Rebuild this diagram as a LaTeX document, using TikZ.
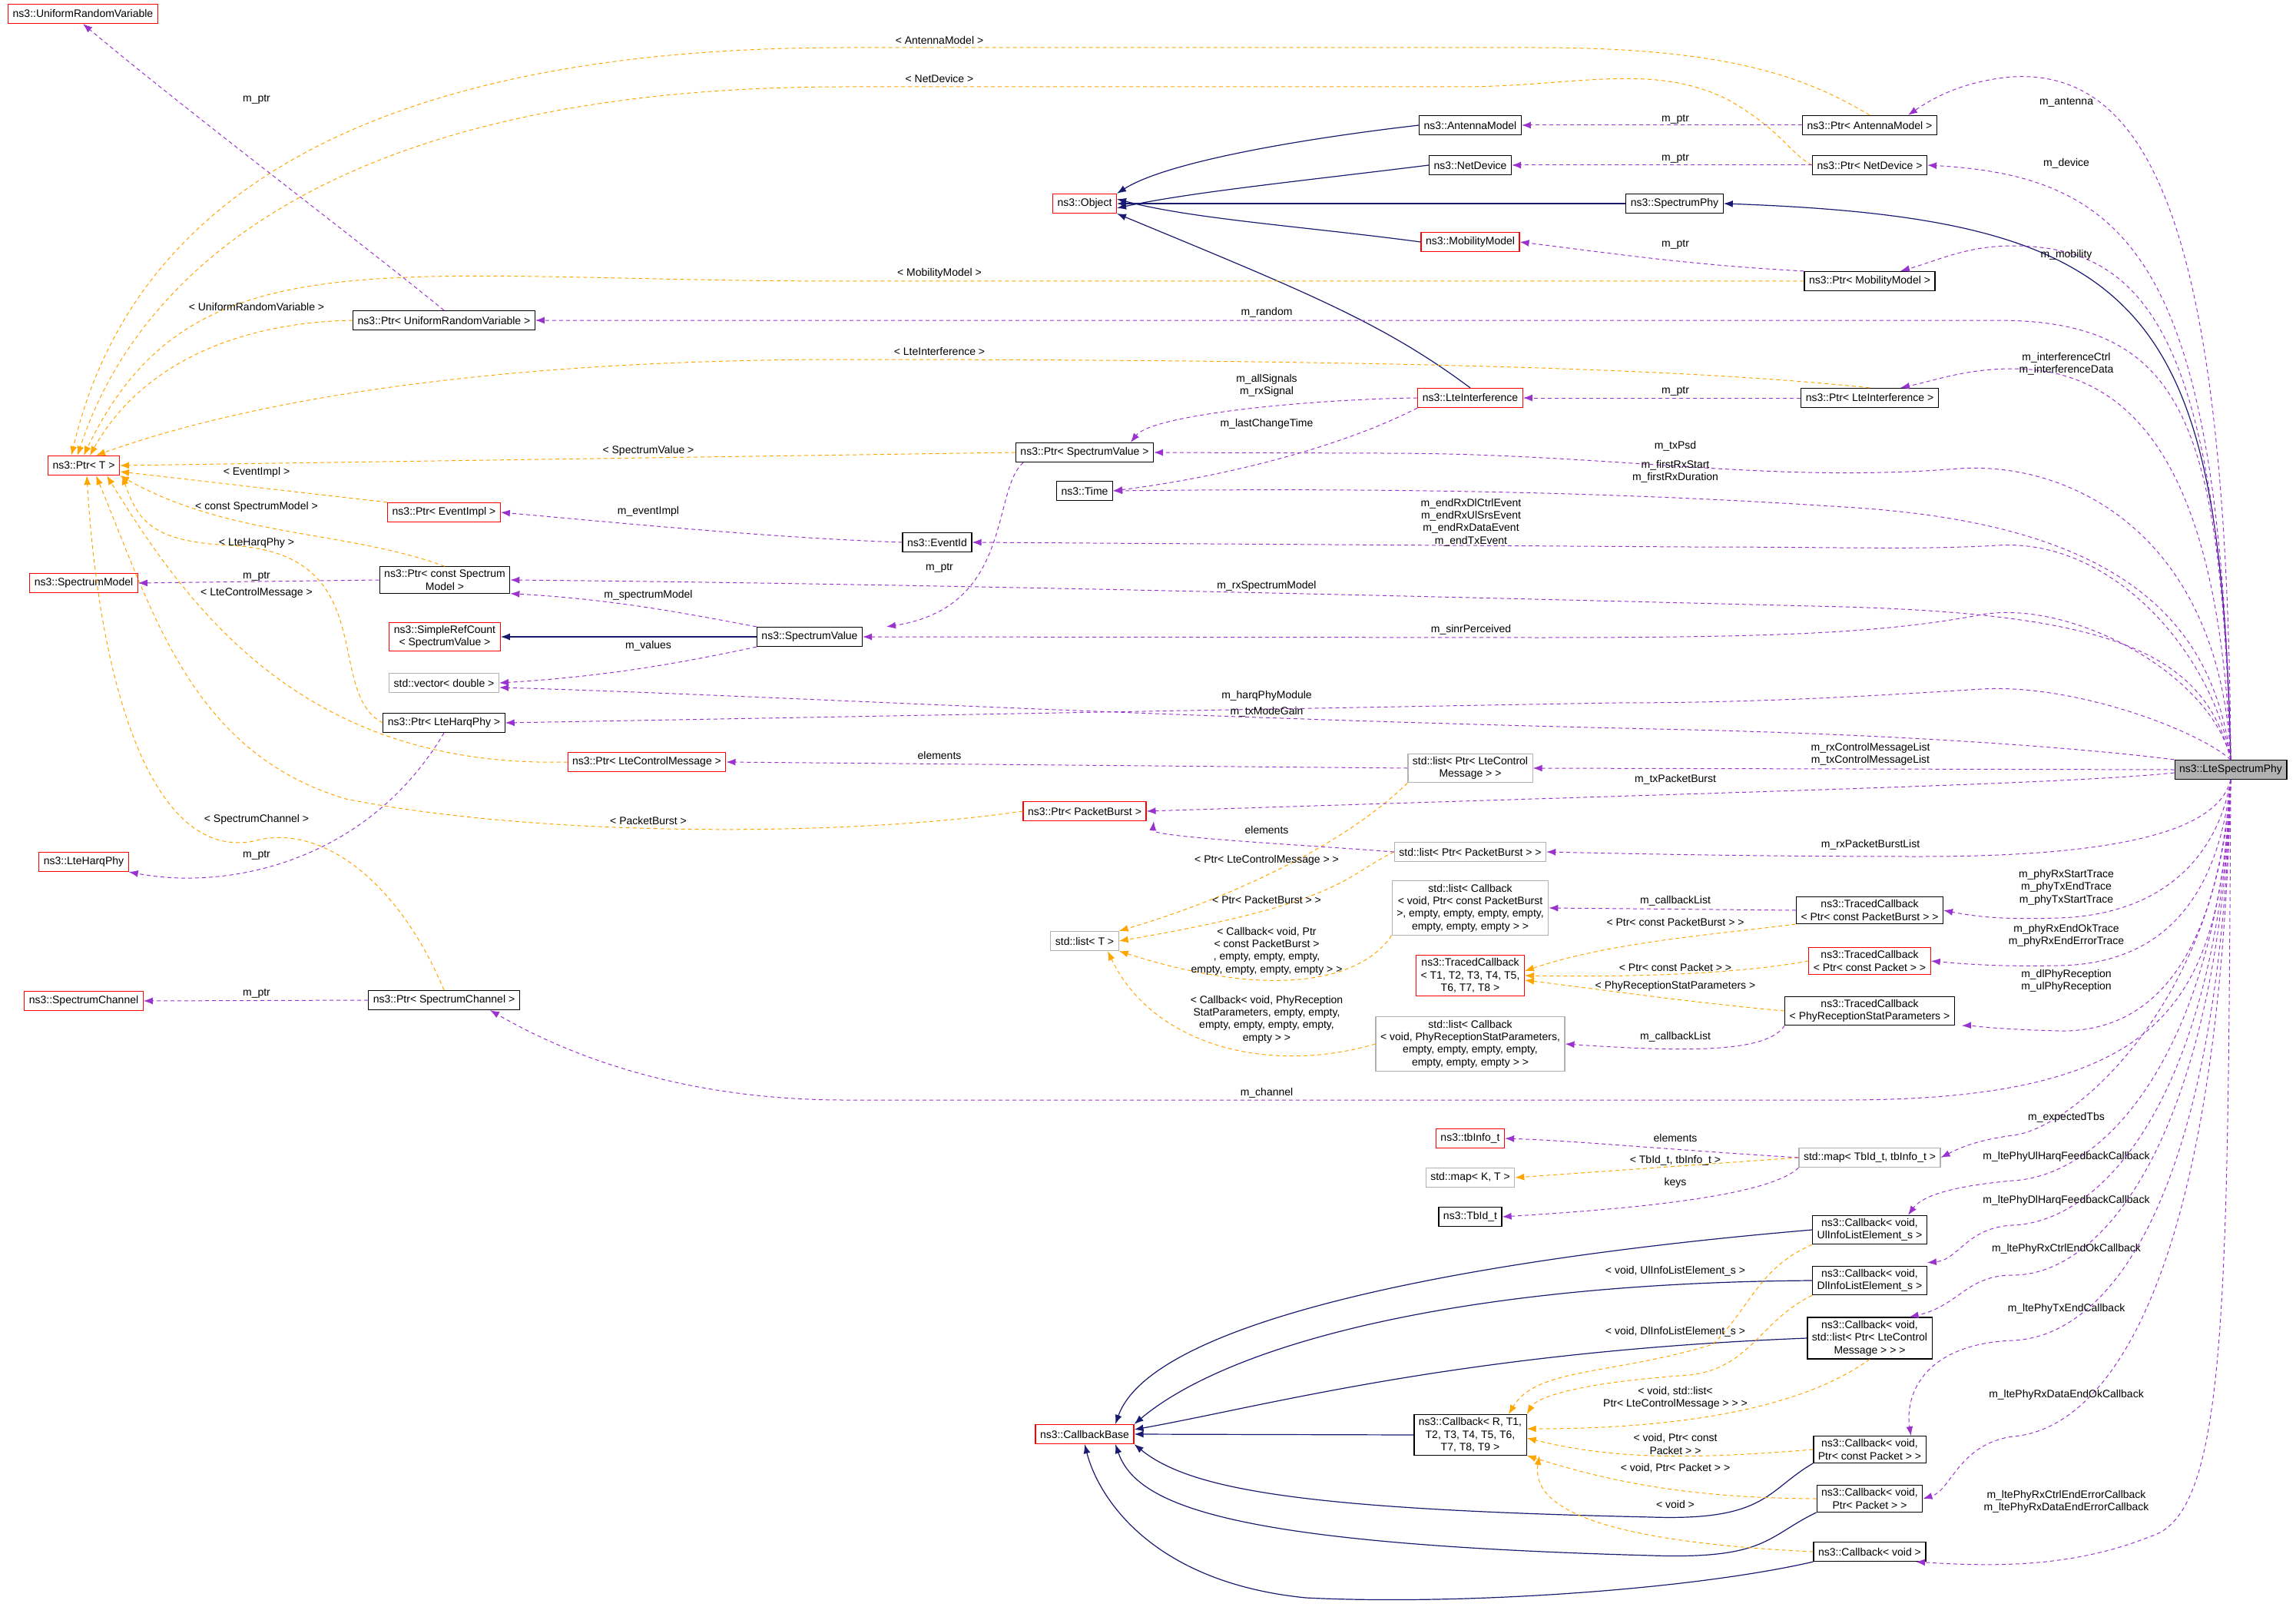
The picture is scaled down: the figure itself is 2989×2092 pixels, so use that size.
\documentclass[tikz,border=0pt]{standalone}
\usepackage{fontspec}
\setmainfont{Liberation Sans}
\usetikzlibrary{arrows.meta}

\definecolor{membercol}{HTML}{9A32CD}
\definecolor{tmplcol}{HTML}{FFA500}
\definecolor{inhcol}{HTML}{191970}
\tikzset{
  cls/.style={draw=black, fill=white, font=\fontsize{7}{8.2}\selectfont, align=center, inner xsep=3pt, inner ysep=2pt, minimum height=12.5pt, line width=0.6pt},
  clsred/.style={cls, draw=red},
  clsgray/.style={cls, draw=black!30},
  lbl/.style={font=\fontsize{7}{8.2}\selectfont, align=center, inner sep=0.5pt},
  mem/.style={draw=membercol, color=membercol, line width=0.5pt, dash pattern=on 2.5pt off 2pt, -{Latex[length=6pt,width=4.5pt]}},
  tmpl/.style={draw=tmplcol, color=tmplcol, line width=0.5pt, dash pattern=on 2.5pt off 2pt, -{Latex[length=6pt,width=4.5pt]}},
  inh/.style={draw=inhcol, color=inhcol, line width=0.6pt, -{Latex[length=6pt,width=4.5pt]}}
}

\begin{document}
\begin{tikzpicture}[x=0.5pt, y=-0.5pt]
    \useasboundingbox (0,0) rectangle (2989,2092);

    % left column
    \node[clsred] (urv) at (108,18) {ns3::UniformRandomVariable};
    \node[clsred] (ptrT) at (109,606) {ns3::Ptr\textless{} T \textgreater};
    \node[clsred] (specModel) at (109,759) {ns3::SpectrumModel};
    \node[clsred] (harqPhy) at (109,1122) {ns3::LteHarqPhy};
    \node[clsred] (specChan) at (109,1303) {ns3::SpectrumChannel};

    % second column
    \node[cls] (pUrv) at (578,417) {ns3::Ptr\textless{} UniformRandomVariable \textgreater};
    \node[clsred] (pEvImpl) at (578,667) {ns3::Ptr\textless{} EventImpl \textgreater};
    \node[cls] (pcSpecModel) at (579,755) {ns3::Ptr\textless{} const Spectrum\\Model \textgreater};
    \node[clsred] (simpleRC) at (579,829) {ns3::SimpleRefCount\\\textless{} SpectrumValue \textgreater};
    \node[clsgray] (vecDbl) at (578,889) {std::vector\textless{} double \textgreater};
    \node[cls] (pHarq) at (578,941) {ns3::Ptr\textless{} LteHarqPhy \textgreater};
    \node[clsred] (pCtrlMsg) at (842,992) {ns3::Ptr\textless{} LteControlMessage \textgreater};
    \node[cls] (pSpecChan) at (578,1302) {ns3::Ptr\textless{} SpectrumChannel \textgreater};
    \node[cls] (specVal) at (1054,829) {ns3::SpectrumValue};
    \node[cls] (eventId) at (1220,706) {ns3::EventId};

    % third column
    \node[clsred] (object) at (1412,265) {ns3::Object};
    \node[cls] (pSpecVal) at (1412,589) {ns3::Ptr\textless{} SpectrumValue \textgreater};
    \node[cls] (time) at (1412,639) {ns3::Time};
    \node[clsred] (pPktBurst) at (1412,1056) {ns3::Ptr\textless{} PacketBurst \textgreater};
    \node[clsgray] (listT) at (1412,1225) {std::list\textless{} T \textgreater};
    \node[clsred] (cbBase) at (1412,1867) {ns3::CallbackBase};

    % fourth column
    \node[cls] (antenna) at (1914,163) {ns3::AntennaModel};
    \node[cls] (netDev) at (1914,215) {ns3::NetDevice};
    \node[clsred] (mobility) at (1914,315) {ns3::MobilityModel};
    \node[clsred] (lteIf) at (1914,518) {ns3::LteInterference};
    \node[clsgray] (listCtrl) at (1914,1000) {std::list\textless{} Ptr\textless{} LteControl\\Message \textgreater{} \textgreater};
    \node[clsgray] (listPb) at (1914,1109) {std::list\textless{} Ptr\textless{} PacketBurst \textgreater{} \textgreater};
    \node[clsgray] (listCbPb) at (1914,1182) {std::list\textless{} Callback\\\textless{} void, Ptr\textless{} const PacketBurst\\ \textgreater, empty, empty, empty, empty,\\empty, empty, empty \textgreater{} \textgreater};
    \node[clsred] (tcT) at (1914,1270) {ns3::TracedCallback\\\textless{} T1, T2, T3, T4, T5,\\T6, T7, T8 \textgreater};
    \node[clsgray] (listCbRecep) at (1914,1359) {std::list\textless{} Callback\\\textless{} void, PhyReceptionStatParameters,\\empty, empty, empty, empty,\\empty, empty, empty \textgreater{} \textgreater};
    \node[clsred] (tbInfo) at (1914,1482) {ns3::tbInfo\_t};
    \node[clsgray] (mapKT) at (1914,1533) {std::map\textless{} K, T \textgreater};
    \node[cls] (tbId) at (1914,1584) {ns3::TbId\_t};
    \node[cls] (cbR) at (1914,1868) {ns3::Callback\textless{} R, T1,\\T2, T3, T4, T5, T6,\\T7, T8, T9 \textgreater};

    % fifth column
    \node[cls] (specPhy) at (2180,265) {ns3::SpectrumPhy};
    \node[cls] (pAntenna) at (2434,163) {ns3::Ptr\textless{} AntennaModel \textgreater};
    \node[cls] (pNetDev) at (2434,215) {ns3::Ptr\textless{} NetDevice \textgreater};
    \node[cls] (pMobility) at (2434,366) {ns3::Ptr\textless{} MobilityModel \textgreater};
    \node[cls] (pLteIf) at (2434,518) {ns3::Ptr\textless{} LteInterference \textgreater};
    \node[cls] (tcPb) at (2434,1185) {ns3::TracedCallback\\\textless{} Ptr\textless{} const PacketBurst \textgreater{} \textgreater};
    \node[clsred] (tcPkt) at (2434,1251) {ns3::TracedCallback\\\textless{} Ptr\textless{} const Packet \textgreater{} \textgreater};
    \node[cls] (tcRecep) at (2434,1316) {ns3::TracedCallback\\\textless{} PhyReceptionStatParameters \textgreater};
    \node[clsgray] (mapTb) at (2434,1507) {std::map\textless{} TbId\_t, tbInfo\_t \textgreater};
    \node[cls] (cbUl) at (2434,1601) {ns3::Callback\textless{} void,\\UlInfoListElement\_s \textgreater};
    \node[cls] (cbDl) at (2434,1667) {ns3::Callback\textless{} void,\\DlInfoListElement\_s \textgreater};
    \node[cls] (cbList) at (2434,1742) {ns3::Callback\textless{} void,\\std::list\textless{} Ptr\textless{} LteControl\\Message \textgreater{} \textgreater{} \textgreater};
    \node[cls] (cbCPkt) at (2434,1887) {ns3::Callback\textless{} void,\\Ptr\textless{} const Packet \textgreater{} \textgreater};
    \node[cls] (cbPkt) at (2434,1951) {ns3::Callback\textless{} void,\\Ptr\textless{} Packet \textgreater{} \textgreater};
    \node[cls] (cbVoid) at (2434,2020) {ns3::Callback\textless{} void \textgreater};

    \node[cls, fill=black!30] (lsp) at (2904,1002) {ns3::LteSpectrumPhy};

    % inheritance
    \draw[inh] (antenna.west) .. controls (1700,180) and (1520,210) .. (object.north east);
    \draw[inh] (netDev.west) .. controls (1700,235) and (1550,250) .. ([yshift=-3pt]object.east);
    \draw[inh] (specPhy.west) -- (object.east);
    \draw[inh] (mobility.west) .. controls (1700,295) and (1550,285) .. ([yshift=3pt]object.east);
    \draw[inh] (lteIf.north) .. controls (1800,420) and (1700,380) .. (object.south east);
    \draw[inh] (lsp.north) .. controls (2890,400) and (2800,285) .. (specPhy.east);
    \draw[inh] (specVal.west) -- (simpleRC.east);
    \draw[inh] (cbUl.west) .. controls (1900,1640) and (1500,1720) .. ([xshift=20]cbBase.north);
    \draw[inh] (cbDl.west) .. controls (1900,1670) and (1600,1750) .. (cbBase.north east);
    \draw[inh] (cbList.west) .. controls (1900,1760) and (1650,1830) .. ([yshift=3pt]cbBase.east);
    \draw[inh] (cbR.west) -- (cbBase.east);
    \draw[inh] (cbCPkt.south west) .. controls (2300,1940) and (2300,1980) .. (2150,1975) .. controls (1700,1965) and (1550,1940) .. (cbBase.south east);
    \draw[inh] (cbPkt.south west) .. controls (2300,2000) and (2300,2030) .. (2150,2025) .. controls (1600,2010) and (1480,1960) .. ([xshift=20]cbBase.south);
    \draw[inh] (cbVoid.south west) .. controls (2200,2070) and (1900,2090) .. (1700,2080) .. controls (1500,2060) and (1430,1950) .. (cbBase.south);

    % template arguments
    \draw[tmpl] (pAntenna.north) .. controls (2350,100) and (2250,62) .. (2000,62) -- (1100,62) .. controls (350,62) and (150,350) .. ([xshift=-8]ptrT.north);
    \node[lbl] (tAnt) at (1223,52) {\textless{} AntennaModel \textgreater};
    \draw[tmpl] (pNetDev.west) .. controls (2330,200) and (2320,170) .. (2250,130) .. controls (2150,80) and (2050,113) .. (1900,113) -- (1100,113) .. controls (400,113) and (170,380) .. ([xshift=-4]ptrT.north);
    \node[lbl] (tNet) at (1223,102) {\textless{} NetDevice \textgreater};
    \draw[tmpl] (pMobility.west) -- (1100,366) .. controls (500,366) and (250,300) .. (ptrT.north);
    \node[lbl] (tMob) at (1223,356) {\textless{} MobilityModel \textgreater};
    \draw[tmpl] (pUrv.west) .. controls (300,420) and (180,480) .. ([xshift=4]ptrT.north);
    \node[lbl] (tUrv) at (334,399) {\textless{} UniformRandomVariable \textgreater};
    \draw[tmpl] (pLteIf.north) .. controls (2200,480) and (1800,468) .. (1100,468) .. controls (600,468) and (300,530) .. ([xshift=8]ptrT.north);
    \node[lbl] (tLteIf) at (1223,458) {\textless{} LteInterference \textgreater};
    \draw[tmpl] (pSpecVal.west) -- (ptrT.east);
    \node[lbl] (tSv) at (844,587) {\textless{} SpectrumValue \textgreater};
    \draw[tmpl] (pEvImpl.north west) -- ([yshift=-4pt]ptrT.east);
    \node[lbl] (tEv) at (334,615) {\textless{} EventImpl \textgreater};
    \draw[tmpl] (pcSpecModel.north) .. controls (450,690) and (300,700) .. (ptrT.south east);
    \node[lbl] (tSm) at (334,660) {\textless{} const SpectrumModel \textgreater};
    \draw[tmpl] (pHarq.west) .. controls (420,900) and (500,720) .. (300,710) .. controls (200,705) and (180,680) .. ([xshift=25]ptrT.south);
    \node[lbl] (tHarq) at (334,707) {\textless{} LteHarqPhy \textgreater};
    \draw[tmpl] (pCtrlMsg.west) .. controls (400,1000) and (250,800) .. ([xshift=15]ptrT.south);
    \node[lbl] (tCtrl) at (334,772) {\textless{} LteControlMessage \textgreater};
    \draw[tmpl] (pPktBurst.west) .. controls (1100,1090) and (700,1090) .. (450,1040) .. controls (250,980) and (200,800) .. ([xshift=8]ptrT.south);
    \node[lbl] (tPb) at (844,1068) {\textless{} PacketBurst \textgreater};
    \draw[tmpl] (pSpecChan.north) .. controls (520,1150) and (420,1070) .. (330,1095) .. controls (200,1120) and (130,900) .. ([xshift=2]ptrT.south);
    \node[lbl] (tSc) at (334,1067) {\textless{} SpectrumChannel \textgreater};
    \draw[tmpl] (listCtrl.south west) .. controls (1750,1100) and (1600,1170) .. (listT.north east);
    \node[lbl] (tLc) at (1649,1120) {\textless{} Ptr\textless{} LteControlMessage \textgreater{} \textgreater};
    \draw[tmpl] (listPb.west) .. controls (1750,1140) and (1750,1175) .. (listT.east);
    \node[lbl] (tLpb) at (1649,1171) {\textless{} Ptr\textless{} PacketBurst \textgreater{} \textgreater};
    \draw[tmpl] (listCbPb.south west) .. controls (1770,1280) and (1650,1300) .. (listT.south east);
    \node[lbl] (tLcb) at (1649,1238) {\textless{} Callback\textless{} void, Ptr\\\textless{} const PacketBurst \textgreater\\, empty, empty, empty,\\empty, empty, empty, empty \textgreater{} \textgreater};
    \draw[tmpl] (listCbRecep.west) .. controls (1650,1400) and (1500,1360) .. ([xshift=15]listT.south);
    \node[lbl] (tLcr) at (1649,1327) {\textless{} Callback\textless{} void, PhyReception\\StatParameters, empty, empty,\\empty, empty, empty, empty,\\empty \textgreater{} \textgreater};
    \draw[tmpl] (tcPb.south west) .. controls (2250,1215) and (2100,1225) .. ([yshift=3pt]tcT.east);
    \node[lbl] (tTpb) at (2181,1200) {\textless{} Ptr\textless{} const PacketBurst \textgreater{} \textgreater};
    \draw[tmpl] (tcPkt.west) .. controls (2250,1270) and (2100,1272) .. (tcT.east);
    \node[lbl] (tTpk) at (2181,1259) {\textless{} Ptr\textless{} const Packet \textgreater{} \textgreater};
    \draw[tmpl] (tcRecep.west) .. controls (2200,1305) and (2100,1290) .. ([yshift=-3pt]tcT.east);
    \node[lbl] (tTr) at (2181,1284) {\textless{} PhyReceptionStatParameters \textgreater};
    \draw[tmpl] (mapTb.west) -- (mapKT.east);
    \node[lbl] (tMap) at (2181,1511) {\textless{} TbId\_t, tbInfo\_t \textgreater};
    \draw[tmpl] (cbUl.south west) .. controls (2290,1650) and (2280,1700) .. (2230,1750) .. controls (2100,1790) and (2000,1780) .. ([xshift=25]cbR.north);
    \node[lbl] (tUl) at (2181,1655) {\textless{} void, UlInfoListElement\_s \textgreater};
    \draw[tmpl] (cbDl.south west) .. controls (2290,1720) and (2280,1780) .. (2200,1790) .. controls (2050,1800) and (2000,1820) .. (cbR.north east);
    \node[lbl] (tDl) at (2181,1734) {\textless{} void, DlInfoListElement\_s \textgreater};
    \draw[tmpl] (cbList.south) .. controls (2350,1830) and (2200,1860) .. ([yshift=4pt]cbR.east);
    \node[lbl] (tLl) at (2181,1820) {\textless{} void, std::list\textless\\Ptr\textless{} LteControlMessage \textgreater{} \textgreater{} \textgreater};
    \draw[tmpl] (cbCPkt.west) .. controls (2200,1900) and (2100,1900) .. ([yshift=-2pt]cbR.east);
    \node[lbl] (tCp) at (2181,1880) {\textless{} void, Ptr\textless{} const\\Packet \textgreater{} \textgreater};
    \draw[tmpl] (cbPkt.west) .. controls (2200,1950) and (2100,1930) .. (cbR.south east);
    \node[lbl] (tPk) at (2181,1911) {\textless{} void, Ptr\textless{} Packet \textgreater{} \textgreater};
    \draw[tmpl] (cbVoid.west) .. controls (2150,2010) and (1990,1980) .. ([xshift=45]cbR.south);
    \node[lbl] (tVd) at (2181,1958) {\textless{} void \textgreater};

    % members of the smart pointers and containers
    \draw[mem] (pUrv.north) .. controls (450,300) and (250,150) .. (urv.south);
    \node[lbl] (mUrv) at (334,129) {m\_ptr};
    \draw[mem] (pAntenna.west) -- (antenna.east);
    \node[lbl] (mAnt) at (2181,155) {m\_ptr};
    \draw[mem] (pNetDev.west) -- (netDev.east);
    \node[lbl] (mNet) at (2181,206) {m\_ptr};
    \draw[mem] (pMobility.north west) .. controls (2200,345) and (2100,330) .. (mobility.east);
    \node[lbl] (mMob) at (2181,318) {m\_ptr};
    \draw[mem] (pLteIf.west) -- (lteIf.east);
    \node[lbl] (mIf) at (2181,509) {m\_ptr};
    \draw[mem] (lteIf.west) .. controls (1700,520) and (1500,540) .. ([xshift=30]pSpecVal.north);
    \node[lbl] (mSig) at (1649,502) {m\_allSignals\\m\_rxSignal};
    \draw[mem] (lteIf.south west) .. controls (1750,580) and (1600,620) .. (time.east);
    \node[lbl] (mLct) at (1649,552) {m\_lastChangeTime};
    \draw[mem] ([xshift=-40]pSpecVal.south) .. controls (1290,640) and (1320,790) .. ([xshift=50]specVal.north);
    \node[lbl] (mSvp) at (1223,739) {m\_ptr};
    \draw[mem] (eventId.west) .. controls (1000,700) and (800,680) .. (pEvImpl.east);
    \node[lbl] (mEv) at (844,666) {m\_eventImpl};
    \draw[mem] (pcSpecModel.west) -- (specModel.east);
    \node[lbl] (mSm) at (334,750) {m\_ptr};
    \draw[mem] (specVal.north west) .. controls (900,800) and (800,780) .. (pcSpecModel.south east);
    \node[lbl] (mSpm) at (844,775) {m\_spectrumModel};
    \draw[mem] (specVal.south west) .. controls (900,860) and (800,880) .. (vecDbl.east);
    \node[lbl] (mVal) at (844,841) {m\_values};
    \draw[mem] (pHarq.south) .. controls (480,1120) and (300,1160) .. (harqPhy.south east);
    \node[lbl] (mHq) at (334,1113) {m\_ptr};
    \draw[mem] (listCtrl.west) -- (pCtrlMsg.east);
    \node[lbl] (mEl) at (1223,983) {elements};
    \draw[mem] (listPb.west) .. controls (1700,1100) and (1500,1090) .. ([xshift=45]pPktBurst.south);
    \node[lbl] (mElb) at (1649,1080) {elements};
    \draw[mem] (pSpecChan.west) -- (specChan.east);
    \node[lbl] (mSc) at (334,1293) {m\_ptr};
    \draw[mem] (tcPb.west) -- (listCbPb.east);
    \node[lbl] (mCl) at (2181,1173) {m\_callbackList};
    \draw[mem] (tcRecep.south west) .. controls (2300,1370) and (2200,1370) .. (listCbRecep.east);
    \node[lbl] (mCr) at (2181,1350) {m\_callbackList};
    \draw[mem] (mapTb.west) .. controls (2150,1495) and (2050,1485) .. (tbInfo.east);
    \node[lbl] (mTi) at (2181,1481) {elements};
    \draw[mem] (mapTb.south west) .. controls (2300,1560) and (2100,1575) .. (tbId.east);
    \node[lbl] (mKy) at (2181,1540) {keys};

    % members of ns3::LteSpectrumPhy
    \draw[mem] (lsp.north) .. controls (2900,300) and (2800,90) .. (2620,100) .. controls (2560,105) and (2520,125) .. ([xshift=25]pAntenna.north);
    \node[lbl] (lAnt) at (2690,133) {m\_antenna};
    \draw[mem] (lsp.north) .. controls (2890,350) and (2780,230) .. (pNetDev.east);
    \node[lbl] (lDev) at (2690,213) {m\_device};
    \draw[mem] (lsp.north) .. controls (2890,450) and (2800,320) .. (2620,320) .. controls (2560,320) and (2520,340) .. ([xshift=20]pMobility.north);
    \node[lbl] (lMob) at (2690,332) {m\_mobility};
    \draw[mem] (lsp.north) .. controls (2890,560) and (2850,417) .. (2600,417) -- (pUrv.east);
    \node[lbl] (lRnd) at (1649,407) {m\_random};
    \draw[mem] (lsp.north) .. controls (2890,650) and (2800,480) .. (2620,480) .. controls (2560,480) and (2520,495) .. ([xshift=20]pLteIf.north);
    \node[lbl] (lIf) at (2690,474) {m\_interferenceCtrl\\m\_interferenceData};
    \draw[mem] (lsp.north) .. controls (2890,700) and (2700,600) .. (2550,610) .. controls (2300,630) and (2100,590) .. (1800,590) -- (pSpecVal.east);
    \node[lbl] (lPsd) at (2181,581) {m\_txPsd};
    \draw[mem] (lsp.north) .. controls (2880,800) and (2750,680) .. (2400,660) .. controls (2100,640) and (1800,635) .. (time.east);
    \node[lbl] (lFrx) at (2181,614) {m\_firstRxStart\\m\_firstRxDuration};
    \draw[mem] (lsp.north) .. controls (2880,850) and (2750,700) .. (2600,710) .. controls (2500,716) and (2400,712) .. (2200,712) -- (eventId.east);
    \node[lbl] (lEv) at (1915,680) {m\_endRxDlCtrlEvent\\m\_endRxUlSrsEvent\\m\_endRxDataEvent\\m\_endTxEvent};
    \draw[mem] (lsp.north) .. controls (2870,850) and (2750,800) .. (2400,790) .. controls (1800,775) and (1200,760) .. (pcSpecModel.east);
    \node[lbl] (lRsm) at (1649,763) {m\_rxSpectrumModel};
    \draw[mem] (lsp.north) .. controls (2880,880) and (2700,780) .. (2580,800) .. controls (2450,825) and (2300,830) .. (2000,830) -- (specVal.east);
    \node[lbl] (lSinr) at (1915,820) {m\_sinrPerceived};
    \draw[mem] (lsp.north) .. controls (2860,950) and (2700,890) .. (2580,897) .. controls (2450,905) and (2300,915) .. (2100,915) -- (pHarq.east);
    \node[lbl] (lHq) at (1649,906) {m\_harqPhyModule};
    \draw[mem] (lsp.north west) .. controls (2800,985) and (2600,960) .. (2200,950) .. controls (1500,935) and (1000,905) .. ([yshift=-3pt]vecDbl.east);
    \node[lbl] (lTmg) at (1649,927) {m\_txModeGain};
    \draw[mem] (lsp.west) -- (listCtrl.east);
    \node[lbl] (lCtl) at (2435,982) {m\_rxControlMessageList\\m\_txControlMessageList};
    \draw[mem] ([yshift=-2pt]lsp.west) .. controls (2700,1020) and (2300,1030) .. (pPktBurst.east);
    \node[lbl] (lTpb) at (2181,1015) {m\_txPacketBurst};
    \draw[mem] (lsp.south) .. controls (2890,1070) and (2800,1115) .. (2500,1115) .. controls (2300,1115) and (2150,1112) .. (listPb.east);
    \node[lbl] (lRpb) at (2435,1100) {m\_rxPacketBurstList};
    \draw[mem] (lsp.south) .. controls (2890,1100) and (2830,1190) .. (2680,1195) .. controls (2620,1197) and (2580,1195) .. (tcPb.east);
    \node[lbl] (lTr1) at (2690,1155) {m\_phyRxStartTrace\\m\_phyTxEndTrace\\m\_phyTxStartTrace};
    \draw[mem] (lsp.south) .. controls (2890,1150) and (2830,1255) .. (2680,1257) .. controls (2620,1258) and (2580,1257) .. (tcPkt.east);
    \node[lbl] (lTr2) at (2690,1218) {m\_phyRxEndOkTrace\\m\_phyRxEndErrorTrace};
    \draw[mem] (lsp.south) .. controls (2890,1200) and (2830,1345) .. (2680,1342) .. controls (2600,1340) and (2560,1335) .. ([xshift=60]tcRecep.south);
    \node[lbl] (lTr3) at (2690,1277) {m\_dlPhyReception\\m\_ulPhyReception};
    \draw[mem] (lsp.south) .. controls (2890,1300) and (2830,1432) .. (2400,1432) -- (1100,1432) .. controls (900,1432) and (750,1380) .. ([xshift=30]pSpecChan.south);
    \node[lbl] (lCh) at (1649,1423) {m\_channel};
    \draw[mem] (lsp.south) .. controls (2890,1300) and (2700,1470) .. (2620,1478) .. controls (2570,1485) and (2550,1495) .. (mapTb.east);
    \node[lbl] (lTbs) at (2690,1455) {m\_expectedTbs};
    \draw[mem] (lsp.south) .. controls (2890,1350) and (2750,1530) .. (2620,1537) .. controls (2530,1545) and (2500,1560) .. ([xshift=25]cbUl.north);
    \node[lbl] (lUl) at (2690,1506) {m\_ltePhyUlHarqFeedbackCallback};
    \draw[mem] (lsp.south) .. controls (2890,1400) and (2750,1590) .. (2620,1595) .. controls (2560,1598) and (2550,1640) .. ([yshift=2pt]cbDl.north east);
    \node[lbl] (lDl) at (2690,1563) {m\_ltePhyDlHarqFeedbackCallback};
    \draw[mem] (lsp.south) .. controls (2890,1450) and (2750,1660) .. (2620,1660) .. controls (2560,1660) and (2550,1700) .. ([xshift=-15]cbList.north east);
    \node[lbl] (lCe) at (2690,1626) {m\_ltePhyRxCtrlEndOkCallback};
    \draw[mem] (lsp.south) .. controls (2890,1550) and (2750,1740) .. (2620,1745) .. controls (2500,1750) and (2480,1820) .. ([xshift=-10]cbCPkt.north east);
    \node[lbl] (lTx) at (2690,1704) {m\_ltePhyTxEndCallback};
    \draw[mem] (lsp.south) .. controls (2890,1650) and (2750,1860) .. (2620,1870) .. controls (2550,1880) and (2540,1940) .. (cbPkt.east);
    \node[lbl] (lRd) at (2690,1816) {m\_ltePhyRxDataEndOkCallback};
    \draw[mem] (lsp.south) .. controls (2900,1700) and (2900,1970) .. (2800,2000) .. controls (2700,2040) and (2600,2040) .. ([xshift=30]cbVoid.south);
    \node[lbl] (lErr) at (2690,1955) {m\_ltePhyRxCtrlEndErrorCallback\\m\_ltePhyRxDataEndErrorCallback};
\end{tikzpicture}
\end{document}
